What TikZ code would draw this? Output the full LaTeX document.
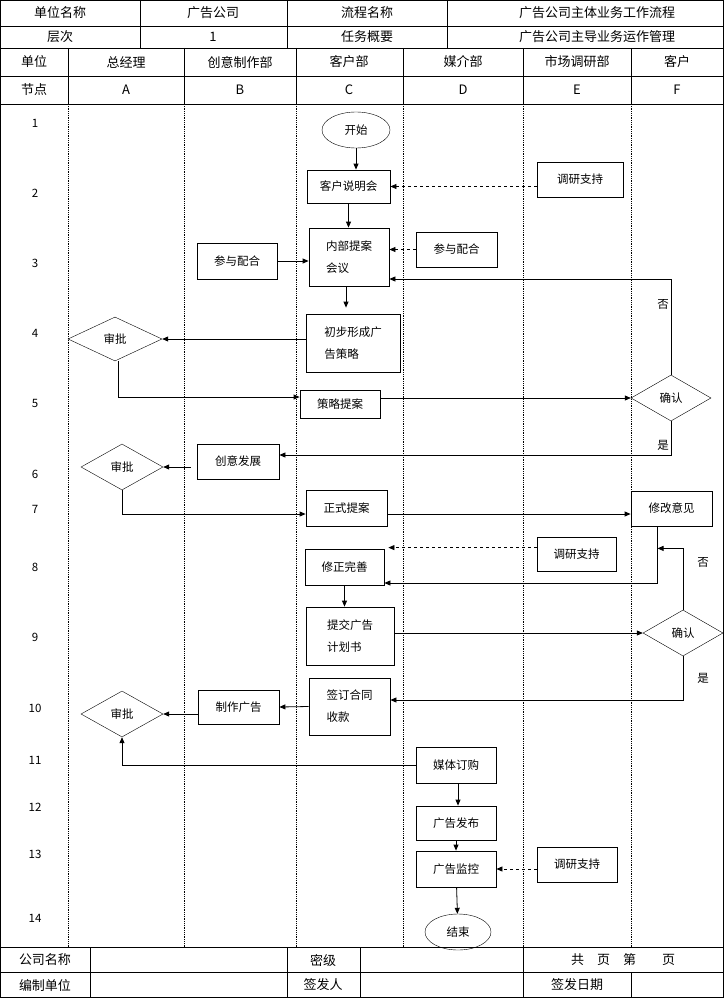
\documentclass[tikz,border=0pt]{standalone}
\usepackage{fontspec}
\setmainfont{Liberation Serif}
\newfontfamily\cjk{Noto Sans CJK SC}
\usetikzlibrary{shapes.geometric,arrows.meta,calc}
\begin{document}
\begin{tikzpicture}[x=1pt,y=-1pt,
  every node/.style={font=\cjk\fontsize{11.5}{22}\selectfont},
  hd/.style={font=\cjk\fontsize{13}{14}\selectfont},
  bx/.style={draw,thick,minimum height=34pt,inner sep=2pt},
  dm/.style={draw,diamond,aspect=2,inner sep=0pt},
  el/.style={draw,ellipse,inner sep=0pt},
  ar/.style={-{Triangle[length=6pt,width=5pt]},thick},
  da/.style={ar,dashed},
  dl/.style={densely dotted,thick}]
\useasboundingbox (0,0) rectangle (725,998);
% header
\draw[thick] (0.5,0.5) rectangle (723,997);
\foreach \y in {26,48,76,104,947,972} \draw (0,\y) -- (723,\y);
\foreach \x in {140,287,447} \draw (\x,0) -- (\x,48);
\foreach \x in {68,184,296,403,523,631} \draw (\x,48) -- (\x,104);
\foreach \x in {90,287,360,523} \draw (\x,947) -- (\x,997);
\draw (631,972) -- (631,997);
\foreach \x in {68,184,296,403,523,631} \draw[dl] (\x,104) -- (\x,947);
\node[hd] (h1) at (60,13) {单位名称};
\node[hd] (h2) at (213,13) {广告公司};
\node[hd] (h3) at (367,13) {流程名称};
\node[hd] (h4) at (597,13) {广告公司主体业务工作流程};
\node[hd] (h5) at (60,37) {层次};
\node[hd] (h6) at (213,37) {1};
\node[hd] (h7) at (367,37) {任务概要};
\node[hd] (h8) at (597,37) {广告公司主导业务运作管理};
\node[hd] (u0) at (34,62) {单位};
\node[hd] (u1) at (126,62) {总经理};
\node[hd] (u2) at (240,62) {创意制作部};
\node[hd] (u3) at (349,62) {客户部};
\node[hd] (u4) at (463,62) {媒介部};
\node[hd] (u5) at (577,62) {市场调研部};
\node[hd] (u6) at (677,62) {客户};
\node[hd] (n0) at (34,90) {节点};
\node[hd] (n1) at (126,90) {A};
\node[hd] (n2) at (240,90) {B};
\node[hd] (n3) at (349,90) {C};
\node[hd] (n4) at (463,90) {D};
\node[hd] (n5) at (577,90) {E};
\node[hd] (n6) at (677,90) {F};
\foreach \n/\y in {1/123,2/193,3/263,4/333,5/403,6/474,7/509,8/567,9/637,10/708,11/760,12/807,13/854,14/918}
  \node (r\n) at (35,\y) {\n};
\node[hd] (f1) at (45,960) {公司名称};
\node[hd] (f2) at (323,960) {密级};
\node[hd] (f3) at (623,960) {共\quad 页\quad 第\quad\quad 页};
\node[hd] (f4) at (45,985) {编制单位};
\node[hd] (f5) at (323,985) {签发人};
\node[hd] (f6) at (577,985) {签发日期};
% flow nodes
\node[el,minimum width=68pt,minimum height=36pt] (start) at (356,130) {开始};
\node[bx,minimum width=83pt,minimum height=33pt] (kh) at (348.5,186.5) {客户说明会};
\node[bx,minimum width=86pt,minimum height=35pt] (dy1) at (580,179.5) {调研支持};
\node[bx,minimum width=80pt,minimum height=58pt,align=left] (nb) at (349,257) {内部提案\\会议};
\node[bx,minimum width=80pt,minimum height=36pt] (cyB) at (237,261) {参与配合};
\node[bx,minimum width=81pt,minimum height=35pt] (cyD) at (456.5,249.5) {参与配合};
\node[bx,minimum width=94pt,minimum height=58pt,align=left] (cb) at (353,343) {初步形成广\\告策略};
\node[dm,minimum width=94pt,minimum height=44pt] (sp1) at (115,339) {审批};
\node[bx,minimum width=80pt,minimum height=28pt] (cl) at (340,404) {策略提案};
\node[dm,minimum width=80pt,minimum height=46pt] (qr1) at (671,398) {确认};
\node[bx,minimum width=82pt,minimum height=35pt] (cy) at (238,461.5) {创意发展};
\node[dm,minimum width=82pt,minimum height=46pt] (sp2) at (122,467) {审批};
\node[bx,minimum width=81pt,minimum height=36pt] (zs) at (346.5,508) {正式提案};
\node[bx,minimum width=81pt,minimum height=35pt] (xg) at (671.5,508.5) {修改意见};
\node[bx,minimum width=79pt,minimum height=34pt] (dy2) at (576.5,554) {调研支持};
\node[bx,minimum width=79pt,minimum height=36pt] (xz) at (344.5,567) {修正完善};
\node[bx,minimum width=88pt,minimum height=58pt,align=left] (tj) at (350,636) {提交广告\\计划书};
\node[dm,minimum width=80pt,minimum height=46pt] (qr2) at (683,633) {确认};
\node[bx,minimum width=81pt,minimum height=57pt,align=left] (qd) at (349.5,706.5) {签订合同\\收款};
\node[bx,minimum width=81pt,minimum height=34pt] (zz) at (238.5,707) {制作广告};
\node[dm,minimum width=82pt,minimum height=46pt] (sp3) at (122,714) {审批};
\node[bx,minimum width=80pt,minimum height=36pt] (mt) at (456,765) {媒体订购};
\node[bx,minimum width=80pt,minimum height=34pt] (fb) at (456,823) {广告发布};
\node[bx,minimum width=80pt,minimum height=36pt] (jk) at (456,869) {广告监控};
\node[bx,minimum width=80pt,minimum height=35pt] (dy3) at (577,864.5) {调研支持};
\node[el,minimum width=66pt,minimum height=36pt] (end) at (458,932) {结束};
% edges
\draw[ar] (start) -- (start|-kh.north);
\draw[da] (dy1.west|-kh) -- (kh.east);
\draw[ar] (kh) -- (kh|-nb.north);
\draw[ar] (cyB.east) -- (nb.west|-cyB);
\draw[da] (cyD.west) -- (nb.east|-cyD);
\draw[ar] ($(nb.south)+(-3,0)$) -- ($(nb.south|-cb.north)+(-3,-6)$);
\draw[ar] (cb.west|-sp1) -- (sp1.east);
\draw[ar] ($(sp1.south)+(3,0)$) |- ($(cl.west)+(0,-7)$);
\draw[ar] (cl.east|-qr1) -- (qr1.west);
\draw[ar] (qr1.north) |- (nb.east|-0,279);
\node (no1) at (663,304) {否};
\draw[ar] (qr1.south) |- (cy.east|-0,455);
\node (yes1) at (663,445) {是};
\draw[ar] ($(cy.west)+(-6,5.5)$) -- (sp2.east);
\draw[ar] (sp2.south) |- (zs.west|-0,514);
\draw[ar] (zs.east|-0,514) -- (xg.west|-0,514);
\coordinate (xzt) at ($(xz.north east)+(4,-1)$);
\draw[da] (dy2.west|-xzt) -- (xzt);
\draw[ar] ($(xg.south)+(-14,0)$) |- (xz.east|-0,583);
\draw[ar] (qr2.north) |- ($(xg.south)+(-14,22)$);
\node (no2) at (703,562) {否};
\draw[ar] (xz.south) -- (xz.south|-tj.north);
\draw[ar] (tj.east|-qr2) -- (qr2.west);
\draw[ar] (qr2.south) |- (qd.east|-0,700);
\node (yes2) at (703,678) {是};
\draw[ar] (qd.west) -- (zz.east);
\draw[ar] (zz.west|-sp3) -- (sp3.east);
\draw[ar] (mt.west) -| (sp3.south);
\draw[ar] ($(mt.south)+(2,0)$) -- ($(fb.north)+(2,0)$);
\draw[ar] (fb) -- (jk);
\draw[da] (dy3.west|-jk) -- (jk.east);
\draw[ar] (jk) -- (end);
\end{tikzpicture}
\end{document}
